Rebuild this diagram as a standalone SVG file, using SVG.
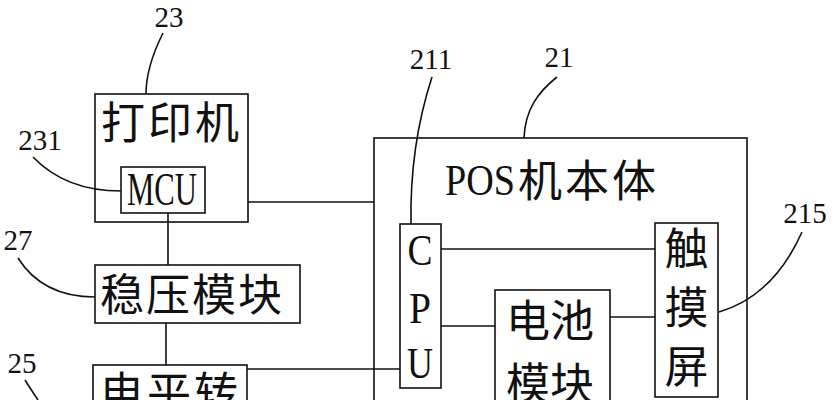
<svg xmlns="http://www.w3.org/2000/svg" width="834" height="400" viewBox="0 0 834 400">
<style>
  .box{fill:#fff;stroke:#111;stroke-width:1.6}
  .frame{fill:none;stroke:#111;stroke-width:1.6}
  .ln{fill:none;stroke:#111;stroke-width:1.6}
  .ld{fill:none;stroke:#111;stroke-width:1.6}
  .cj{font-family:"Liberation Serif","Noto Sans CJK SC",serif;font-size:44px;fill:#111}
  .lat{font-family:"Liberation Serif",serif;fill:#111}
  .num{font-family:"Liberation Serif",serif;font-size:29px;fill:#111;text-anchor:middle}
</style>
<rect width="834" height="400" fill="#fff"/>
<g id="pos-body">
  <rect class="frame" x="374" y="138" width="373" height="280"/>
  <text class="lat" x="445" y="195" font-size="44" textLength="70" lengthAdjust="spacingAndGlyphs">POS</text>
  <text class="cj" x="518" y="197" letter-spacing="3">机本体</text>
</g>
<g id="printer">
  <rect class="box" x="95" y="94" width="153" height="128"/>
  <text class="cj" x="101" y="139" letter-spacing="3">打印机</text>
</g>
<g id="mcu">
  <rect class="box" x="121" y="167" width="84" height="46"/>
  <text class="lat" x="127" y="205" font-size="46" textLength="70" lengthAdjust="spacingAndGlyphs">MCU</text>
</g>
<g id="regulator">
  <rect class="box" x="95" y="265" width="205" height="58"/>
  <text class="cj" x="100" y="311" font-size="46" letter-spacing="2">稳压模块</text>
</g>
<g id="level-shifter">
  <rect class="box" x="93" y="365" width="154" height="60"/>
  <text class="cj" x="100" y="409" letter-spacing="3">电平转</text>
</g>
<g id="cpu">
  <rect class="box" x="400" y="224" width="41" height="164"/>
  <text class="lat" x="420" y="265" font-size="44" text-anchor="middle" textLength="25" lengthAdjust="spacingAndGlyphs">C</text>
  <text class="lat" x="420" y="323" font-size="44" text-anchor="middle" textLength="22" lengthAdjust="spacingAndGlyphs">P</text>
  <text class="lat" x="420" y="378" font-size="44" text-anchor="middle" textLength="26" lengthAdjust="spacingAndGlyphs">U</text>
</g>
<g id="battery">
  <rect class="box" x="495" y="290" width="115" height="130"/>
  <text class="cj" x="506" y="337" font-size="45">电池</text>
  <text class="cj" x="506" y="400" font-size="45">模块</text>
</g>
<g id="touchscreen">
  <rect class="box" x="655" y="223" width="63" height="174"/>
  <text class="cj" x="686.5" y="265" text-anchor="middle">触</text>
  <text class="cj" x="686.5" y="324" text-anchor="middle">摸</text>
  <text class="cj" x="686.5" y="383" text-anchor="middle">屏</text>
</g>
<g id="connectors">
  <path class="ln" d="M248,202 H374"/>
  <path class="ln" d="M168,213 V265"/>
  <path class="ln" d="M166,323 V365"/>
  <path class="ln" d="M247,369 H400"/>
  <path class="ln" d="M441,249 H655"/>
  <path class="ln" d="M441,326 H495"/>
  <path class="ln" d="M610,317 H655"/>
</g>
<g id="leaders">
  <path class="ld" d="M163,33 C152,55 146,75 146,94"/>
  <path class="ld" d="M33,157 C55,180 85,191 121,191"/>
  <path class="ld" d="M18,258 C35,285 60,297 95,297"/>
  <path class="ld" d="M25,380 C30,388 34,394 38,400"/>
  <path class="ld" d="M432,77 C418,120 410,170 411,224"/>
  <path class="ld" d="M557,77 C538,92 525,110 524,138"/>
  <path class="ld" d="M802,232 C785,270 760,300 719,312"/>
</g>
<g id="labels">
  <text class="num" x="169" y="27">23</text>
  <text class="num" x="40" y="150">231</text>
  <text class="num" x="18" y="250">27</text>
  <text class="num" x="22" y="373">25</text>
  <text class="num" x="431" y="69">211</text>
  <text class="num" x="559" y="67">21</text>
  <text class="num" x="805" y="223">215</text>
</g>
</svg>
